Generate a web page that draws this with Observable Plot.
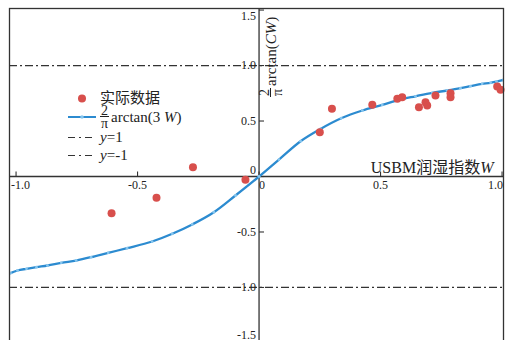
<!DOCTYPE html>
<html><head><meta charset="utf-8">
<script src="https://cdn.jsdelivr.net/npm/d3@7"></script>
<script src="https://cdn.jsdelivr.net/npm/@observablehq/plot@0.6"></script>
<style>
html,body{margin:0;padding:0;background:#fff;overflow:hidden;}
#wrap{position:relative;width:515px;height:340px;overflow:hidden;font-family:"Liberation Serif","Noto Sans CJK SC",serif;color:#222;}
#wrap > svg{position:absolute;left:0;top:0;}
.frac{display:inline-flex;flex-direction:column;align-items:center;margin-right:2px;}
.frac span{font-size:14px;line-height:11px;display:block;padding:0 1px;}
.frac .den{border-top:1px solid #222;padding-top:1px;}
.lrow{position:absolute;left:68px;display:flex;align-items:center;transform:translateY(-50%);font-size:15px;white-space:nowrap;line-height:1;}
.lrow svg{display:block;margin-right:4px;}
#ylab{position:absolute;left:259px;top:97px;transform-origin:0 0;transform:rotate(-90deg);display:flex;align-items:center;font-size:15px;white-space:nowrap;line-height:1;}
</style></head>
<body><div id="wrap"></div>
<script>
// ---- data ----
const curveW = [-1.023,-0.994,-0.957,-0.916,-0.871,-0.814,-0.753,-0.691,-0.621,-0.543,-0.440,-0.357,-0.275,-0.186,-0.097,0,0.082,0.171,0.253,0.338,0.425,0.507,0.575,0.644,0.713,0.774,0.829,0.870,0.918,0.953,0.977,1.006];
const curveY = [-0.871,-0.847,-0.832,-0.817,-0.802,-0.778,-0.757,-0.727,-0.688,-0.646,-0.586,-0.516,-0.432,-0.322,-0.171,0,0.153,0.318,0.429,0.525,0.595,0.645,0.690,0.723,0.754,0.775,0.796,0.814,0.835,0.844,0.856,0.871];
const obsW = [-0.607,-0.422,-0.272,-0.056,0.250,0.300,0.466,0.569,0.589,0.658,0.685,0.692,0.726,0.788,0.788,0.980,0.994];
const obsY = [-0.331,-0.192,0.084,-0.030,0.399,0.610,0.646,0.700,0.714,0.624,0.669,0.640,0.730,0.750,0.714,0.811,0.781];
const refLines = [1, -1];
const xTicks = [-1, -0.5, 0, 0.5, 1];
const xTickLabels = ["-1.0", "-0.5", "0", "0.5", "1.0"];
const yTicks = [-1.5, -1, -0.5, 0, 0.5, 1, 1.5];
const yTickLabels = ["-1.5", "-1.0", "-0.5", "0", "0.5", "1.0", "1.5"];
const xLabel = "USBM润湿指数";
const xLabelVar = "W";
const legendLabels = ["实际数据", "arctan(3 ", "y", "y"];

// ---- style ----
const BLUE = "#2c8bd0", BLUE_L = "#86c6ef", RED = "#d84f4c", INK = "#333";
const FONT = '"Liberation Serif","Noto Sans CJK SC",serif';

const curve = curveW.map((w, i) => ({w, v: curveY[i]}));
const obs = obsW.map((w, i) => ({w, v: obsY[i]}));
const xt = xTicks.map((v, i) => ({v, label: xTickLabels[i], i}));
const yt = yTicks.map((v, i) => ({v, label: yTickLabels[i]}));

const tickUp = {draw(ctx) { ctx.moveTo(0, 0); ctx.lineTo(0, -5); }};
const tickRight = {draw(ctx) { ctx.moveTo(0, 0); ctx.lineTo(5, 0); }};

const plot = Plot.plot({
  width: 515, height: 352,
  marginTop: 8, marginLeft: 9, marginRight: 12, marginBottom: 0,
  x: {domain: [-1.027, 1.006], axis: null},
  y: {domain: [-1.586, 1.514], axis: null},
  style: {fontFamily: FONT, fontSize: "12px", color: "#222", background: "transparent"},
  marks: [
    Plot.ruleY(refLines, {y: d => d, stroke: INK, strokeWidth: 1.2, strokeDasharray: "8,3,2,3"}),
    Plot.ruleX([0], {stroke: INK, strokeWidth: 1.3}),
    Plot.ruleY([0], {stroke: INK, strokeWidth: 1.3}),
    Plot.dot(xTicks, {x: d => d, y: () => 0, symbol: tickUp, stroke: INK, strokeWidth: 1.1, fill: "none"}),
    Plot.dot(yTicks, {x: () => 0, y: d => d, symbol: tickRight, stroke: INK, strokeWidth: 1.1, fill: "none"}),
    // x tick labels
    Plot.text(xt.filter(d => d.i === 0), {x: "v", y: () => 0, text: "label", textAnchor: "start", dx: -5, dy: 4, lineAnchor: "top", fill: "#222"}),
    Plot.text(xt.filter(d => d.v === 0), {x: "v", y: () => 0, text: "label", textAnchor: "start", dx: 0, dy: 4, lineAnchor: "top", fill: "#222"}),
    Plot.text(xt.filter(d => d.i === xTicks.length - 1), {x: "v", y: () => 0, text: "label", textAnchor: "end", dx: 1, dy: 4, lineAnchor: "top", fill: "#222"}),
    Plot.text(xt.filter(d => d.i > 0 && d.i < xTicks.length - 1 && d.v !== 0), {x: "v", y: () => 0, text: "label", textAnchor: "middle", dy: 4, lineAnchor: "top", fill: "#222"}),
    // y tick labels
    Plot.text(yt.filter(d => d.v !== 0 && Math.abs(d.v) !== 1.5), {x: () => 0, y: "v", text: "label", textAnchor: "end", dx: -3, fill: "#222"}),
    Plot.text(yt.filter(d => d.v === 1.5), {x: () => 0, y: "v", text: "label", textAnchor: "end", dx: -3, dy: 6, fill: "#222"}),
    Plot.text(yt.filter(d => d.v === 0), {x: () => 0, y: "v", text: "label", textAnchor: "end", dx: -3, dy: -6, fill: "#222"}),
    Plot.text(yt.filter(d => d.v === -1.5), {x: () => 0, y: "v", text: "label", textAnchor: "end", dx: -3, dy: -8, fill: "#222"}),
    // data
    Plot.line(curve, {x: "w", y: "v", stroke: BLUE, strokeWidth: 2.3, curve: "monotone-x", clip: true}),
    Plot.dot(curve, {x: "w", y: "v", r: 1.4, fill: BLUE_L, clip: true}),
    Plot.dot(obs, {x: "w", y: "v", r: 4, fill: RED}),
    // x axis title
    Plot.text([xLabel], {frameAnchor: "right", y: () => 0, text: d => d, textAnchor: "end", lineAnchor: "bottom", dx: -10, dy: -4, fontSize: 16, fill: "#222"}),
    Plot.frame({stroke: INK, strokeWidth: 1.3})
  ]
});

// italic variable in the x title
d3.select(plot).selectAll("text").each(function () {
  if (this.textContent === xLabel) {
    const t = document.createElementNS("http://www.w3.org/2000/svg", "tspan");
    t.setAttribute("font-style", "italic");
    t.textContent = xLabelVar;
    this.appendChild(t);
  }
});

const wrap = document.getElementById("wrap");
wrap.appendChild(plot);

// y axis title (rotated)
const ylab = document.createElement("div");
ylab.id = "ylab";
ylab.innerHTML = '<span class="frac"><span>2</span><span class="den">π</span></span><span>arctan(<i>CW</i>)</span>';
wrap.appendChild(ylab);

// legend
const dashLine = '<svg width="28" height="10"><line x1="0" x2="28" y1="5" y2="5" stroke="#333" stroke-width="1.1" stroke-dasharray="7,4,2,4"/></svg>';
const rows = [
  {c: 98, html: '<svg width="28" height="10"><circle cx="14" cy="5" r="4" fill="' + RED + '"/></svg><span>' + legendLabels[0] + '</span>'},
  {c: 117, html: '<svg width="28" height="10"><line x1="0" x2="28" y1="5" y2="5" stroke="' + BLUE + '" stroke-width="2"/><circle cx="14" cy="5" r="1.8" fill="' + BLUE_L + '"/></svg><span class="frac"><span>2</span><span class="den">π</span></span><span>' + legendLabels[1] + '<i>W</i>)</span>'},
  {c: 137, html: dashLine + '<span><i>' + legendLabels[2] + '</i>=1</span>'},
  {c: 155, html: dashLine + '<span><i>' + legendLabels[3] + '</i>=-1</span>'}
];
rows.forEach(r => {
  const d = document.createElement("div");
  d.className = "lrow";
  d.style.top = r.c + "px";
  d.innerHTML = r.html;
  wrap.appendChild(d);
});
</script>
</body></html>
